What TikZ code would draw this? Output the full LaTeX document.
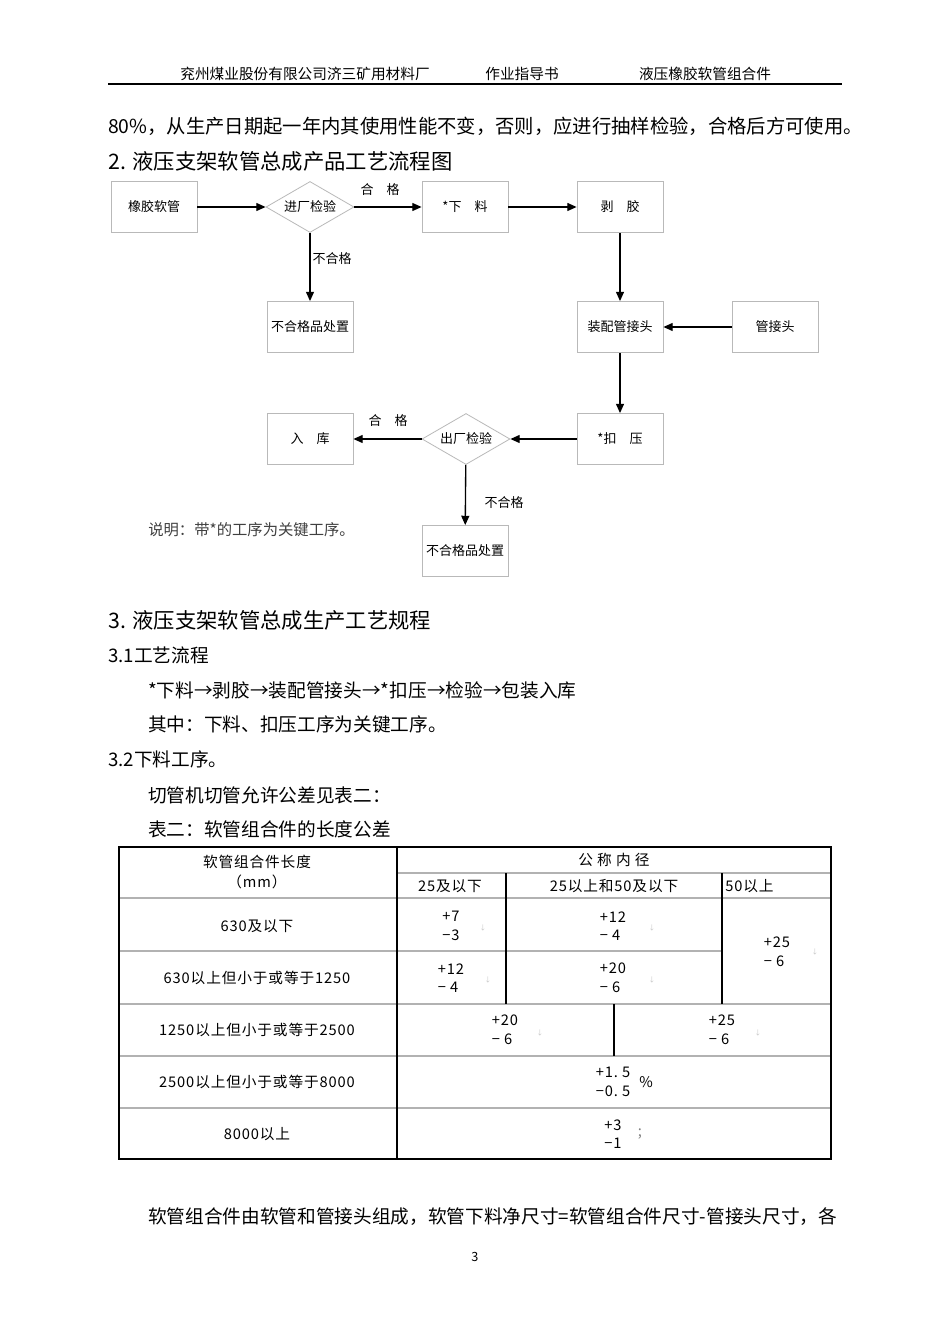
\documentclass[tikz,border=0pt]{standalone}
\usepackage{fontspec}
\setmainfont{Noto Sans CJK SC}
\newfontfamily\tabfam[LetterSpace=6]{Noto Sans CJK SC}
\usetikzlibrary{shapes.geometric,arrows.meta}

\newcommand\hdrfont{\fontsize{11pt}{13pt}\selectfont}
\newcommand\bodyfont{\fontsize{14pt}{17pt}\selectfont}
\newcommand\headfont{\fontsize{16pt}{19pt}\selectfont}
\newcommand\boxfont{\fontsize{9.75pt}{12pt}\selectfont}
\newcommand\tabfont{\tabfam\fontsize{11pt}{14pt}\selectfont}

\tikzset{
  procbox/.style={draw=gray!55, line width=0.6pt, minimum width=64.5pt,
    minimum height=38.25pt, inner sep=0pt, font=\boxfont},
  checkbox/.style={diamond, aspect=1.7, draw=gray!55, line width=0.6pt,
    minimum width=66pt, minimum height=38.25pt, inner sep=0pt, font=\boxfont},
  flowarrow/.style={line width=1pt, -{Triangle[length=7pt,width=6pt]}},
  flowlabel/.style={font=\boxfont, inner sep=1pt},
  bodytext/.style={anchor=west, inner sep=0pt, font=\bodyfont},
  tabtext/.style={inner sep=0pt, font=\tabfont},
  toltext/.style={inner sep=0pt, align=left, font=\tabfont},
  parmark/.style={inner sep=0pt, text=gray!45, font=\fontsize{5pt}{6pt}\selectfont},
  tabline/.style={draw=gray!60, line width=0.8pt},
  tabrule/.style={draw=black, line width=0.9pt}
}

\begin{document}
\begin{tikzpicture}[x=0.75pt, y=-0.75pt]
  \useasboundingbox[fill=white] (0,0) rectangle (950,1344);

  % page header
  \node[inner sep=0pt, font=\hdrfont] (company) at (305,74) {兖州煤业股份有限公司济三矿用材料厂};
  \node[inner sep=0pt, font=\hdrfont] (doctype) at (522,74) {作业指导书};
  \node[inner sep=0pt, font=\hdrfont] (product) at (705,74) {液压橡胶软管组合件};
  \draw[line width=1.1pt] (108,84) -- (842,84);

  \node[bodytext, font=\fontsize{14.5pt}{17pt}\selectfont] (carry) at (108,126)
    {80\%，从生产日期起一年内其使用性能不变，否则，应进行抽样检验，合格后方可使用。};
  \node[bodytext, font=\headfont] (sec2) at (108,161) {2. 液压支架软管总成产品工艺流程图};

  % flow chart
  \node[procbox] (hose) at (154,207) {橡胶软管};
  \node[checkbox] (incheck) at (310,207) {进厂检验};
  \node[procbox] (cutting) at (465,207) {*下\quad 料};
  \node[procbox] (stripping) at (620,207) {剥\quad 胶};
  \node[procbox] (rejectA) at (310,327) {不合格品处置};
  \node[procbox] (assembly) at (620,327) {装配管接头};
  \node[procbox] (fitting) at (775,327) {管接头};
  \node[procbox] (storage) at (310,439) {入\quad 库};
  \node[checkbox] (outcheck) at (466,439) {出厂检验};
  \node[procbox] (crimping) at (620,439) {*扣\quad 压};
  \node[procbox] (rejectB) at (465,551) {不合格品处置};

  \draw[flowarrow] (hose) -- (incheck);
  \draw[flowarrow] (incheck) -- (cutting);
  \draw[flowarrow] (cutting) -- (stripping);
  \draw[flowarrow] (stripping) -- (assembly);
  \draw[flowarrow] (incheck) -- (rejectA);
  \draw[flowarrow] (fitting) -- (assembly);
  \draw[flowarrow] (assembly) -- (crimping);
  \draw[flowarrow] (crimping) -- (outcheck);
  \draw[flowarrow] (outcheck) -- (storage);
  \draw[flowarrow] (outcheck) -- (rejectB);

  \node[flowlabel] (passA) at (380,190) {合\quad 格};
  \node[flowlabel] (failA) at (332,259) {不合格};
  \node[flowlabel] (passB) at (388,421) {合\quad 格};
  \node[flowlabel] (failB) at (504,503) {不合格};
  \node[anchor=west, inner sep=0pt, font=\fontsize{11.5pt}{13pt}\selectfont, text=black!75] (note) at (148,530)
    {说明：带*的工序为关键工序。};

  % section 3
  \node[bodytext, font=\headfont] (sec3) at (108,620) {3. 液压支架软管总成生产工艺规程};
  \node[bodytext] (sec31) at (108,655) {3.1工艺流程};
  \node[bodytext] (steps) at (148,690) {*下料→剥胶→装配管接头→*扣压→检验→包装入库};
  \node[bodytext] (keysteps) at (148,724) {其中：下料、扣压工序为关键工序。};
  \node[bodytext] (sec32) at (108,759) {3.2下料工序。};
  \node[bodytext] (tabref) at (148,795) {切管机切管允许公差见表二：};
  \node[bodytext] (tabcap) at (148,829) {表二：软管组合件的长度公差};

  % table
  \draw[tabline] (397,873) -- (831,873);
  \draw[tabline] (119,898) -- (831,898);
  \draw[tabline] (119,951) -- (722,951);
  \draw[tabline] (119,1004) -- (831,1004);
  \draw[tabline] (119,1056) -- (831,1056);
  \draw[tabline] (119,1108) -- (831,1108);
  \draw[tabrule] (397,847) -- (397,1159);
  \draw[tabrule] (506,873) -- (506,1004);
  \draw[tabrule] (722,873) -- (722,1004);
  \draw[tabrule] (614,1004) -- (614,1056);
  \draw[tabrule] (119,847) rectangle (831,1159);

  \node[tabtext] (lenhead) at (257,862) {软管组合件长度};
  \node[tabtext] (lenunit) at (257,882) {（mm）};
  \node[tabtext] (borehead) at (614,860) {公\ 称\ 内\ 径};
  \node[tabtext] (boreA) at (450,886) {25及以下};
  \node[tabtext] (boreB) at (614,886) {25以上和50及以下};
  \node[tabtext, anchor=west] (boreC) at (725,886) {50以上};

  \node[tabtext] (lenA) at (257,926) {630及以下};
  \node[tabtext] (lenB) at (257,978) {630以上但小于或等于1250};
  \node[tabtext] (lenC) at (257,1030) {1250以上但小于或等于2500};
  \node[tabtext] (lenD) at (257,1082) {2500以上但小于或等于8000};
  \node[tabtext] (lenE) at (257,1134) {8000以上};

  \node[toltext] (tolAA) at (451,926) {+7\\−3};
  \node[parmark] (markAA) at (483,928) {↓};
  \node[toltext] (tolAB) at (613,926) {+12\\−\ 4};
  \node[parmark] (markAB) at (652,928) {↓};
  \node[toltext] (tolC) at (777,952) {+25\\−\ 6};
  \node[parmark] (markC) at (815,952) {↓};
  \node[toltext] (tolBA) at (451,978) {+12\\−\ 4};
  \node[parmark] (markBA) at (488,980) {↓};
  \node[toltext] (tolBB) at (613,978) {+20\\−\ 6};
  \node[parmark] (markBB) at (652,980) {↓};
  \node[toltext] (tolCA) at (505,1030) {+20\\−\ 6};
  \node[parmark] (markCA) at (540,1033) {↓};
  \node[toltext] (tolCB) at (722,1030) {+25\\−\ 6};
  \node[parmark] (markCB) at (758,1033) {↓};
  \node[toltext] (tolD) at (613,1082) {+1.\ 5\\−0.\ 5};
  \node[tabtext] (pct) at (646,1082) {\%};
  \node[toltext] (tolE) at (613,1134) {+3\\−1};
  \node[tabtext, text=gray] (semi) at (640,1134) {;};

  % closing text and folio
  \node[bodytext] (closing) at (148,1217)
    {软管组合件由软管和管接头组成，软管下料净尺寸=软管组合件尺寸-管接头尺寸，各};
  \node[inner sep=0pt, font=\fontsize{9.5pt}{11pt}\selectfont] (folio) at (475,1257) {3};
\end{tikzpicture}
\end{document}
